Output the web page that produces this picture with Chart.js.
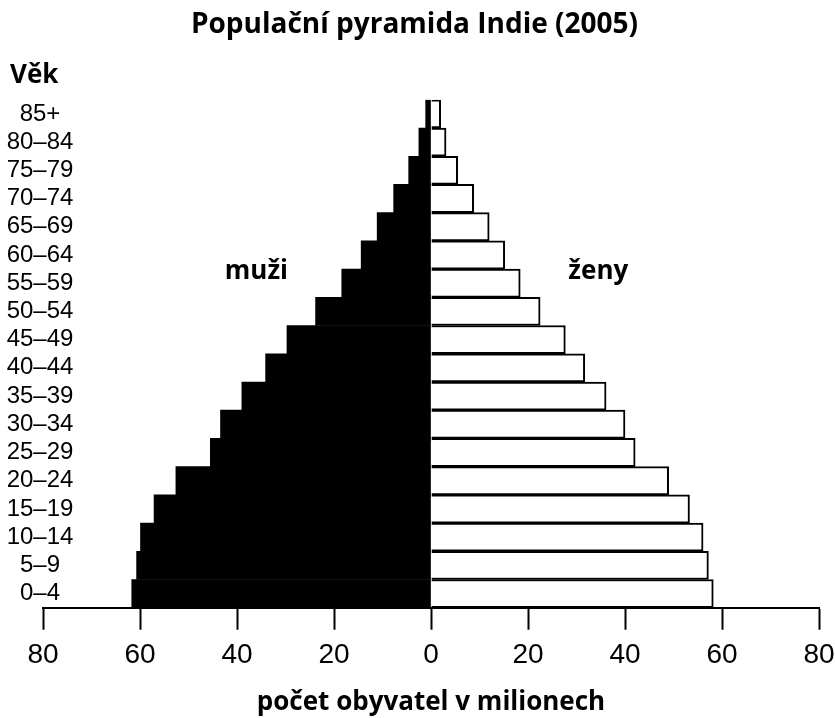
<!DOCTYPE html>
<html>
<head>
<meta charset="utf-8">
<script src="https://cdn.jsdelivr.net/npm/chart.js@4/dist/chart.umd.min.js"></script>
<style>
  html, body { margin: 0; padding: 0; background: #fff; }
  #wrap { width: 835px; height: 718px; }
</style>
</head>
<body>
<div id="wrap"><canvas id="PyramidChart"></canvas></div>
<script>
// age groups, youngest first (axis is reversed so 85+ ends up on top)
var ageGroups = ["0–4", "5–9", "10–14", "15–19", "20–24", "25–29", "30–34", "35–39", "40–44",
                 "45–49", "50–54", "55–59", "60–64", "65–69", "70–74", "75–79", "80–84", "85+"];

// millions
var men   = [61.7, 60.7, 59.9, 57.1, 52.6, 45.5, 43.4, 39.0, 34.1, 29.7, 23.8, 18.4, 14.4, 11.1, 7.7, 4.6, 2.5, 1.1];
var women = [58.2, 57.2, 56.1, 53.3, 49.0, 42.1, 40.0, 36.1, 31.7, 27.7, 22.5, 18.4, 15.2, 12.0, 8.8, 5.5, 3.1, 2.0];

var xTicks = [-80, -60, -40, -20, 0, 20, 40, 60, 80];

var boldFont = '"Open Sans", sans-serif';
var narrowFont = '"Liberation Sans Narrow", "Liberation Sans", sans-serif';

// age labels centred in the left margin (the axis box itself is too narrow, Chart.js would clip them)
var ageLabels = {
  id: "ageLabels",
  afterDraw: function (chart) {
    var ctx = chart.ctx, y = chart.scales.y;
    ctx.save();
    ctx.font = "24px " + narrowFont;
    ctx.fillStyle = "#000";
    ctx.textAlign = "center";
    ctx.textBaseline = "middle";
    ageGroups.forEach(function (t, i) {
      ctx.fillText(t, 40, y.getPixelForValue(i));
    });
    ctx.restore();
  }
};

// "muži" / "ženy" labels inside the plot
var sideLabels = {
  id: "sideLabels",
  afterDatasetsDraw: function (chart) {
    var ctx = chart.ctx;
    var x = chart.scales.x, y = chart.scales.y;
    ctx.save();
    ctx.font = "bold 26px " + boldFont;
    ctx.fillStyle = "#000";
    ctx.textAlign = "center";
    ctx.textBaseline = "middle";
    ctx.fillText("muži", x.getPixelForValue(-36), y.getPixelForValue(11.4));
    ctx.fillText("ženy", x.getPixelForValue(34.5), y.getPixelForValue(11.4));
    ctx.restore();
  }
};

new Chart("PyramidChart", {
  type: "bar",
  data: {
    labels: ageGroups,
    datasets: [{
      label: "muži",
      data: men.map(function (v) { return -v; }),
      backgroundColor: "#000",
      borderWidth: 0
    }, {
      label: "ženy",
      data: women,
      backgroundColor: "#fff",
      borderColor: "#000",
      borderWidth: 2
    }]
  },
  options: {
    indexAxis: "y",
    responsive: true,
    maintainAspectRatio: false,
    animation: false,
    barPercentage: 1,
    categoryPercentage: 1,
    layout: { padding: { left: 10, right: 16, top: 0, bottom: 0 } },
    plugins: {
      legend: { display: false },
      tooltip: { enabled: false },
      title: {
        display: true,
        text: "Populační pyramida Indie (2005)",
        color: "#000",
        font: { family: boldFont, size: 28, weight: "bold" },
        padding: { top: 8, bottom: 18 }
      },
      subtitle: {
        display: true,
        text: "Věk",
        align: "start",
        color: "#000",
        font: { family: boldFont, size: 26, weight: "bold" },
        padding: { top: 0, bottom: 9 }
      }
    },
    scales: {
      x: {
        stacked: true,
        min: -80,
        max: 80,
        afterBuildTicks: function (scale) {
          scale.ticks = xTicks.map(function (v) { return { value: v }; });
        },
        // the end labels may hang into the side margins
        afterFit: function (scale) {
          scale.paddingLeft = 0;
          scale.paddingRight = 0;
        },
        ticks: {
          color: "#000",
          font: { family: narrowFont, size: 28 },
          padding: 8.5,
          maxRotation: 0,
          callback: function (v) { return Math.abs(v); }
        },
        grid: {
          drawOnChartArea: false,
          drawTicks: true,
          tickLength: 22,
          tickColor: "#000",
          tickWidth: 2
        },
        border: { display: true, color: "#000", width: 2 },
        title: {
          display: true,
          text: "počet obyvatel v milionech",
          color: "#000",
          font: { family: boldFont, size: 26, weight: "bold" },
          padding: { top: 6.5, bottom: 0 }
        }
      },
      y: {
        stacked: true,
        reverse: true,
        afterFit: function (scale) { scale.width = 33; },
        grid: { display: false, drawTicks: false },
        border: { display: false },
        ticks: { display: false }
      }
    }
  },
  plugins: [ageLabels, sideLabels]
});
</script>
</body>
</html>
